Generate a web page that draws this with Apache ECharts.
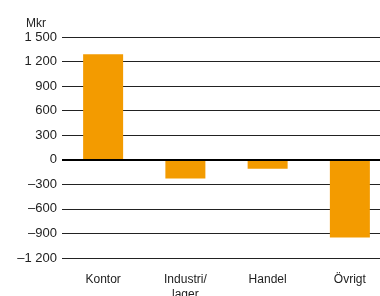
<!DOCTYPE html>
<html>
<head>
<meta charset="utf-8">
<script src="https://cdn.jsdelivr.net/npm/echarts@6/dist/echarts.min.js"></script>
<style>
  html, body { margin: 0; padding: 0; background: #fff; overflow: hidden; }
  /* diagrammet fortsätter något utanför högerkanten, som i originalet */
  #chart { width: 391px; height: 296px; }
</style>
</head>
<body>
<div id="chart"></div>
<script>
const categories = ["Kontor", "Industri/\nlager", "Handel", "Övrigt"];
const values = [1290, -230, -110, -950];
const unitLabel = "Mkr";

const chart = echarts.init(document.getElementById("chart"));

// tusental med mellanslag, minus som tankstreck
const fmt = (v) => {
  const s = String(Math.abs(v)).replace(/\B(?=(\d{3})+(?!\d))/g, " ");
  return v < 0 ? "\u2013" + s : s;
};

chart.setOption({
  animation: false,
  textStyle: { fontFamily: "Liberation Sans, Arial, sans-serif" },
  title: {
    text: unitLabel,
    left: 21,
    top: 13,
    textStyle: { fontSize: 12, fontWeight: "normal", color: "#222" },
  },
  grid: { left: 62, right: 0, top: 37, bottom: 38, outerBoundsMode: "none" },
  xAxis: {
    type: "category",
    data: categories,
    axisLine: { show: false },
    axisTick: { show: false },
    axisLabel: { color: "#222", fontSize: 12, margin: 14, lineHeight: 15, interval: 0 },
  },
  yAxis: {
    type: "value",
    min: -1200,
    max: 1500,
    interval: 300,
    axisLine: { show: false },
    axisTick: { show: false },
    axisLabel: { color: "#222", fontSize: 13, margin: 5, formatter: fmt },
    splitLine: { lineStyle: { color: "#222", width: 1 } },
  },
  series: [
    {
      type: "bar",
      data: values,
      barWidth: 40,
      itemStyle: { color: "#f39b00" },
      markLine: {
        silent: true,
        symbol: "none",
        label: { show: false },
        lineStyle: { color: "#000", width: 2, type: "solid" },
        data: [{ yAxis: 0 }],
      },
    },
  ],
});
</script>
</body>
</html>
